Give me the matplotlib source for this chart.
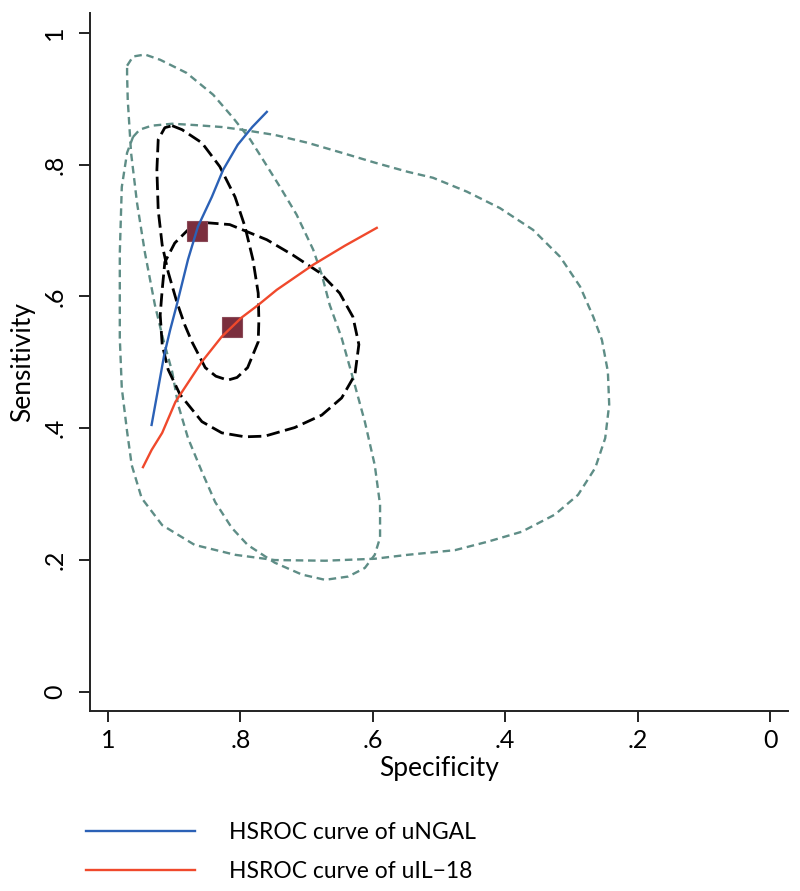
import matplotlib
matplotlib.use("Agg")
import matplotlib.pyplot as plt
import numpy as np

plt.rcParams['font.family'] = ['Lato', 'DejaVu Sans']

# summary operating points (specificity, sensitivity)
ngal_point = (0.866, 0.700)
il18_point = (0.812, 0.553)

# HSROC curves
ngal_spec = [0.934, 0.925, 0.915, 0.906, 0.896, 0.879, 0.864, 0.843, 0.826, 0.804, 0.782, 0.760]
ngal_sens = [0.405, 0.455, 0.511, 0.549, 0.587, 0.656, 0.706, 0.751, 0.792, 0.830, 0.857, 0.880]

il18_spec = [0.947, 0.934, 0.918, 0.898, 0.858, 0.828, 0.798, 0.773, 0.745, 0.690, 0.642, 0.594]
il18_sens = [0.341, 0.367, 0.393, 0.440, 0.501, 0.539, 0.568, 0.587, 0.610, 0.648, 0.677, 0.704]

# 95% confidence regions
conf_ngal_spec = [0.903, 0.888, 0.858, 0.831, 0.808, 0.793, 0.781, 0.773, 0.772, 0.773, 0.789,
                  0.805, 0.819, 0.837, 0.853, 0.873, 0.884, 0.896, 0.909, 0.918, 0.924, 0.926,
                  0.924, 0.914]
conf_ngal_sens = [0.859, 0.853, 0.833, 0.797, 0.751, 0.706, 0.656, 0.605, 0.564, 0.531, 0.492,
                  0.477, 0.473, 0.479, 0.492, 0.531, 0.557, 0.592, 0.637, 0.678, 0.731, 0.792,
                  0.838, 0.856]

conf_il18_spec = [0.853, 0.816, 0.760, 0.721, 0.680, 0.650, 0.630, 0.621, 0.627, 0.647, 0.677,
                  0.718, 0.763, 0.793, 0.828, 0.858, 0.891, 0.909, 0.918, 0.921, 0.918, 0.914,
                  0.899, 0.876]
conf_il18_sens = [0.712, 0.709, 0.686, 0.663, 0.636, 0.605, 0.569, 0.527, 0.481, 0.446, 0.420,
                  0.401, 0.388, 0.387, 0.393, 0.410, 0.451, 0.489, 0.527, 0.572, 0.610, 0.652,
                  0.681, 0.704]

# 95% prediction regions
pred_ngal_spec = [0.971, 0.962, 0.944, 0.921, 0.881, 0.841, 0.811, 0.785, 0.763, 0.740, 0.715,
                  0.690, 0.677, 0.665, 0.647, 0.630, 0.612, 0.597, 0.589, 0.589, 0.597, 0.612,
                  0.637, 0.672, 0.707, 0.748, 0.789, 0.813, 0.838, 0.858, 0.879, 0.894, 0.903,
                  0.917, 0.929, 0.944, 0.956, 0.965, 0.970, 0.971]
pred_ngal_sens = [0.950, 0.964, 0.967, 0.959, 0.939, 0.906, 0.871, 0.838, 0.803, 0.766, 0.724,
                  0.671, 0.633, 0.587, 0.537, 0.476, 0.410, 0.344, 0.284, 0.234, 0.208, 0.188,
                  0.175, 0.170, 0.178, 0.196, 0.223, 0.249, 0.288, 0.334, 0.385, 0.436, 0.486,
                  0.537, 0.587, 0.666, 0.742, 0.818, 0.898, 0.936]

pred_il18_spec = [0.962, 0.952, 0.934, 0.903, 0.869, 0.828, 0.798, 0.748, 0.698, 0.647, 0.597,
                  0.547, 0.509, 0.458, 0.408, 0.358, 0.317, 0.287, 0.267, 0.254, 0.245, 0.243,
                  0.249, 0.264, 0.290, 0.325, 0.375, 0.426, 0.476, 0.547, 0.597, 0.672, 0.748,
                  0.808, 0.869, 0.918, 0.949, 0.964, 0.971, 0.979, 0.982, 0.982, 0.982, 0.979,
                  0.971]
pred_il18_sens = [0.842, 0.853, 0.859, 0.862, 0.860, 0.857, 0.853, 0.845, 0.833, 0.818, 0.803,
                  0.789, 0.780, 0.759, 0.734, 0.701, 0.660, 0.615, 0.569, 0.534, 0.486, 0.436,
                  0.385, 0.340, 0.299, 0.269, 0.243, 0.228, 0.215, 0.208, 0.202, 0.199, 0.200,
                  0.208, 0.223, 0.253, 0.294, 0.344, 0.395, 0.461, 0.537, 0.587, 0.666, 0.766,
                  0.818]

tick_values = [1, 0.8, 0.6, 0.4, 0.2, 0]
tick_labels = ["1", ".8", ".6", ".4", ".2", "0"]

teal = "#5e8d86"
blue = "#2b61b6"
red = "#f0492c"
maroon = "#7b2e3d"


def closed(xs, ys):
    return list(xs) + [xs[0]], list(ys) + [ys[0]]


fig = plt.figure(figsize=(8, 8.91), dpi=100)
ax = fig.add_axes([90 / 800, 1 - 711 / 891, 698 / 800, 698 / 891])

# prediction regions
for xs, ys in [(pred_ngal_spec, pred_ngal_sens), (pred_il18_spec, pred_il18_sens)]:
    x, y = closed(xs, ys)
    ax.plot(x, y, color=teal, lw=1.7, ls=(0, (3.2, 2.0)))

# confidence regions
for xs, ys in [(conf_ngal_spec, conf_ngal_sens), (conf_il18_spec, conf_il18_sens)]:
    x, y = closed(xs, ys)
    ax.plot(x, y, color="black", lw=2.0, ls=(0, (4.8, 2.0)))

# summary points
ax.plot(*ngal_point, marker="s", ms=14, color=maroon, mec="#8a4a58", mew=0.8, ls="none")
ax.plot(*il18_point, marker="s", ms=14, color=maroon, mec="#8a4a58", mew=0.8, ls="none")

# HSROC curves
ax.plot(ngal_spec, ngal_sens, color=blue, lw=1.7, label="HSROC curve of uNGAL")
ax.plot(il18_spec, il18_sens, color=red, lw=1.7, label="HSROC curve of uIL\u221218")

ax.set_xlim(1.027, -0.027)
ax.set_ylim(-0.029, 1.030)
ax.spines["top"].set_visible(False)
ax.spines["right"].set_visible(False)
for s in ["left", "bottom"]:
    ax.spines[s].set_linewidth(1.4)
    ax.spines[s].set_color("#222222")

ax.set_xticks(tick_values)
ax.set_xticklabels(tick_labels, fontsize=18)
ax.set_yticks(tick_values)
ax.set_yticklabels(tick_labels, fontsize=18, rotation=90, va="center")
ax.tick_params(axis="both", length=8, width=1.4, color="#222222")
ax.tick_params(axis="x", pad=5)
ax.tick_params(axis="y", pad=9)

ax.set_xlabel("Specificity", fontsize=19, labelpad=3)
ax.set_ylabel("Sensitivity", fontsize=19, labelpad=6)

handles, labels = ax.get_legend_handles_labels()
fig.legend(handles, labels, loc="upper left", bbox_to_anchor=(86 / 800, 1 - 822 / 891),
           frameon=False, fontsize=16.5, handlelength=4.75, handletextpad=1.5,
           labelspacing=0.8, borderpad=0, borderaxespad=0)

fig.savefig("out.png", dpi=100)
